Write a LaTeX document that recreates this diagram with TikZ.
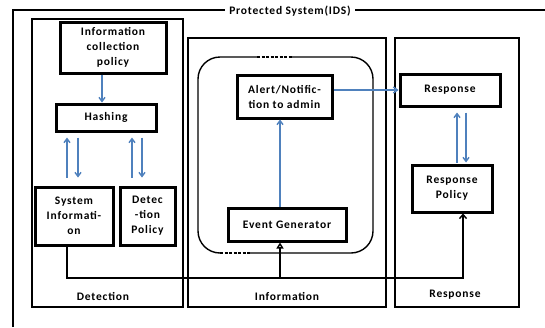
\documentclass[tikz,border=0pt]{standalone}
\usepackage{fontspec}
\setmainfont[LetterSpace=7]{Carlito}
\usepackage{xcolor}
\usetikzlibrary{arrows.meta,positioning,calc}
\definecolor{flowblue}{RGB}{79,129,189}

\begin{document}
\begin{tikzpicture}[x=1pt,y=-1pt,
    font=\bfseries\fontsize{11.5}{15}\selectfont,
    box/.style={draw, line width=3pt, align=center, inner sep=1pt},
    part/.style={draw, line width=1.8pt},
    flow/.style={draw=flowblue, line width=1.4pt, -{Straight Barb[length=4pt,width=6pt]}},
    link/.style={draw, line width=1.4pt}]
    \useasboundingbox (0,0) rectangle (545,327);

    % Protected system frame (cut at the right and bottom)
    \draw[line width=1.6pt] (13,327) -- (13,10) -- (545,10);
    \node[fill=white, inner xsep=4pt] (ids) at (290,11) {Protected System(IDS)};

    % Three parts
    \draw[part] (32,19) rectangle (183,307);
    \draw[part] (188,38) rectangle (386,307);
    \draw[part] (395,38) rectangle (519,307);
    \node (detlbl) at (103,296) {Detection};
    \node (inflbl) at (287,296) {Information};
    \node (reslbl) at (455,295) {Response};

    % Rounded block inside Information
    \draw[line width=1.4pt, rounded corners=22pt] (198,57) rectangle (373,253);
    \draw[white, line width=2pt] (257,57) -- (292,57) (220,253) -- (250,253);
    \draw[line width=1.4pt, dash pattern=on 3pt off 1.5pt] (257,57) -- (292,57) (220,253) -- (250,253);

    % Detection
    \node[box, minimum width=106pt, minimum height=51pt] (icp) at (113,47.5) {Information\\collection\\policy};
    \node[box, minimum width=100pt, minimum height=27pt] (hash) at (106,117.5) {Hashing};
    \node[box, minimum width=78pt, minimum height=58pt] (sysinfo) at (74,216) {System\\Informati-\\on};
    \node[box, minimum width=55pt, minimum height=58pt] (detpol) at (147.5,216) {Detec\\-tion\\Policy};

    % Information
    \node[box, minimum width=95pt, minimum height=43pt] (alert) at (284.5,96.5) {Alert/Notific-\\tion to admin};
    \node[box, minimum width=118pt, minimum height=33pt] (evgen) at (287,224.5) {Event Generator};

    % Response
    \node[box, minimum width=100pt, minimum height=32pt] (resp) at (450,90) {Response};
    \node[box, minimum width=80pt, minimum height=47pt] (rpol) at (452,188.5) {Response\\Policy};

    % Blue flows
    \draw[flow] ([xshift=-11pt]icp.south) -- ([xshift=-11pt]icp.south |- hash.north);
    \draw[flow, shorten <=8pt, shorten >=5pt] ([xshift=-7pt]sysinfo.north) -- ([xshift=-7pt]sysinfo.north |- hash.south);
    \draw[flow, shorten <=5pt, shorten >=8pt] ([xshift=4pt]sysinfo.north |- hash.south) -- ([xshift=4pt]sysinfo.north);
    \draw[flow, shorten <=8pt, shorten >=5pt] ([xshift=-15.5pt]detpol.north) -- ([xshift=-15.5pt]detpol.north |- hash.south);
    \draw[flow, shorten <=5pt, shorten >=8pt] ([xshift=-5.5pt]detpol.north |- hash.south) -- ([xshift=-5.5pt]detpol.north);
    \draw[flow] ([xshift=-7pt]evgen.north) -- ([xshift=-7pt]evgen.north |- alert.south);
    \draw[flow] (alert.east |- resp.west) -- (resp.west);
    \draw[flow, shorten <=1pt, shorten >=5pt] ([xshift=5pt]rpol.north) -- ([xshift=5pt]rpol.north |- resp.south);
    \draw[flow, shorten <=5pt, shorten >=1pt] ([xshift=14pt]rpol.north |- resp.south) -- ([xshift=14pt]rpol.north);

    % Black links
    \coordinate (bend) at (463,278);
    \draw[link, -{Straight Barb[length=4pt,width=7pt]}] ([xshift=-7pt]sysinfo.south) |- (bend) -- (bend |- rpol.south);
    \draw[link, -{Triangle[open,length=6pt,width=7pt]}] ([xshift=-7pt]evgen.south |- bend) -- ([xshift=-7pt]evgen.south);
\end{tikzpicture}
\end{document}
